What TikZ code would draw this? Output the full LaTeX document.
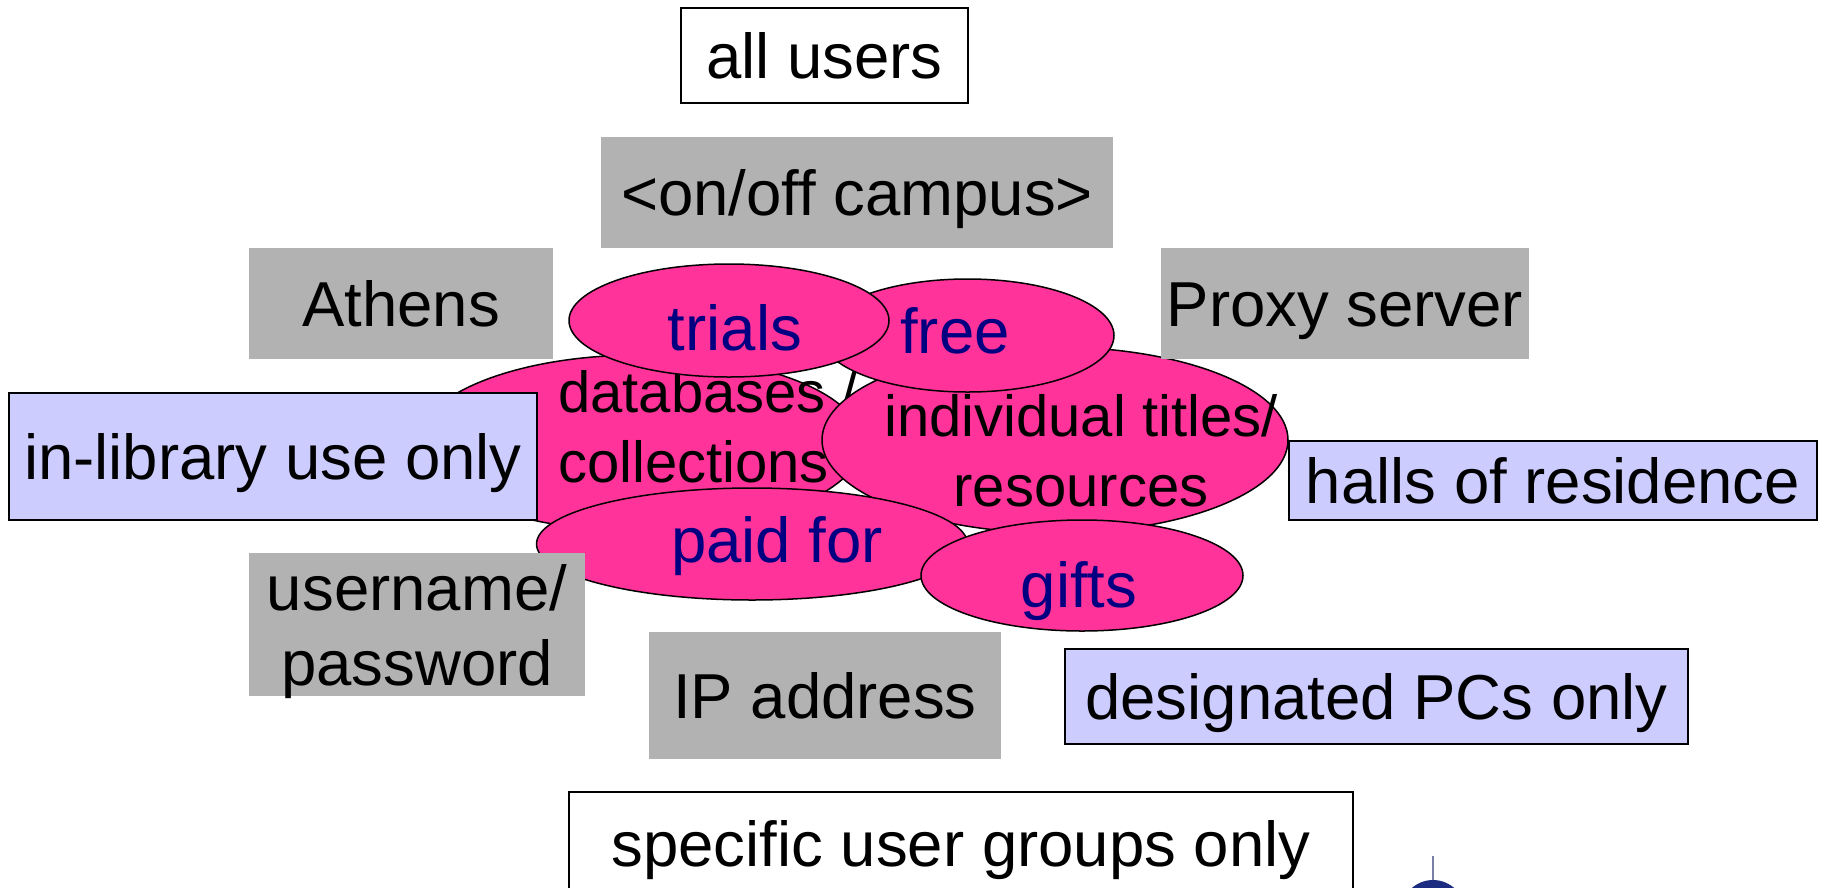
\documentclass[tikz,border=0pt]{standalone}
\usepackage{fontspec}
\setmainfont{Liberation Sans}
\usetikzlibrary{shapes.geometric}

\definecolor{blobpink}{HTML}{FF3399}
\definecolor{boxgray}{HTML}{B2B2B2}
\definecolor{boxblue}{HTML}{CCCCFF}
\definecolor{textnavy}{HTML}{000080}
\definecolor{logoblue}{HTML}{1C2C80}
\definecolor{logoline}{HTML}{7880A8}

\begin{document}
\begin{tikzpicture}[x=1pt,y=-1pt,
	blob/.style={shape=ellipse,draw=black,line width=1.5pt,fill=blobpink,inner sep=0pt},
	bigtext/.style={inner sep=0pt,font=\fontsize{63.5}{75}\selectfont},
	smalltext/.style={inner sep=0pt,font=\fontsize{58}{69.5}\selectfont},
	oneline/.style={text height=46pt,text depth=0pt},
	graybox/.style={bigtext,shape=rectangle,fill=boxgray},
	bluebox/.style={bigtext,shape=rectangle,draw=black,line width=1.5pt,fill=boxblue},
	whitebox/.style={bigtext,shape=rectangle,draw=black,line width=1.5pt,fill=white}]
	\useasboundingbox (0,0) rectangle (1823,887);
		% the kinds of resource
		\node [blob,minimum width=444pt,minimum height=176pt] (E1) at (640,443) {};
		\node [smalltext,align=left,anchor=base west] (T1) at (558,482) {databases /\\collections};
		\node [blob,minimum width=466pt,minimum height=186pt] (E2) at (1055,440) {};
		\node [smalltext,align=center,anchor=base] (T2) at (1081,506) {individual titles/\\resources};
		\node [blob,minimum width=293pt,minimum height=113pt] (E3) at (967.5,335.5) {};
		\node [bigtext,oneline,text=textnavy] (T3) at (955,330) {free};
		\node [blob,minimum width=320pt,minimum height=113pt] (E4) at (729,320.5) {};
		\node [bigtext,oneline,text=textnavy] (T4) at (735,327) {trials};
		\node [blob,minimum width=431pt,minimum height=112pt] (E5) at (752,544) {};
		\node [bigtext,oneline,text=textnavy] (T5) at (777,539) {paid for};
		\node [blob,minimum width=322pt,minimum height=111pt] (E6) at (1082,575.5) {};
		\node [bigtext,oneline,text=textnavy] (T6) at (1079,584) {gifts};
		% who may use them, and how
		\node [whitebox,oneline,minimum width=287pt,minimum height=95pt] (B1) at (824.5,55.5) {all users};
		\node [graybox,oneline,minimum width=512pt,minimum height=111pt] (B2) at (857,192.5) {<on/off campus>};
		\node [graybox,oneline,minimum width=304pt,minimum height=111pt] (B3) at (401,303.5) {Athens};
		\node [graybox,oneline,minimum width=368pt,minimum height=111pt] (B4) at (1345,303.5) {Proxy server};
		\node [bluebox,oneline,minimum width=528pt,minimum height=127pt] (B5) at (273,456.5) {in-library use only};
		\node [bluebox,oneline,minimum width=528pt,minimum height=79pt] (B6) at (1553,480.5) {halls of residence};
		\node [graybox,align=center,text depth=0pt,minimum width=336pt,minimum height=143pt] (B7) at (417,624.5) {username/\\password};
		\node [graybox,oneline,minimum width=352pt,minimum height=127pt] (B8) at (825,695.5) {IP address};
		\node [bluebox,oneline,minimum width=623pt,minimum height=95pt] (B9) at (1376.5,696.5) {designated PCs only};
		\node [whitebox,oneline,minimum width=784pt,minimum height=102pt] (B10) at (961,843) {specific user groups only};
		% corner of a logo
		\fill [logoblue] (1433,912) circle [radius=32pt];
		\draw [logoline,line width=2pt] (1433,856) -- (1433,880);
	\end{tikzpicture}
\end{document}
